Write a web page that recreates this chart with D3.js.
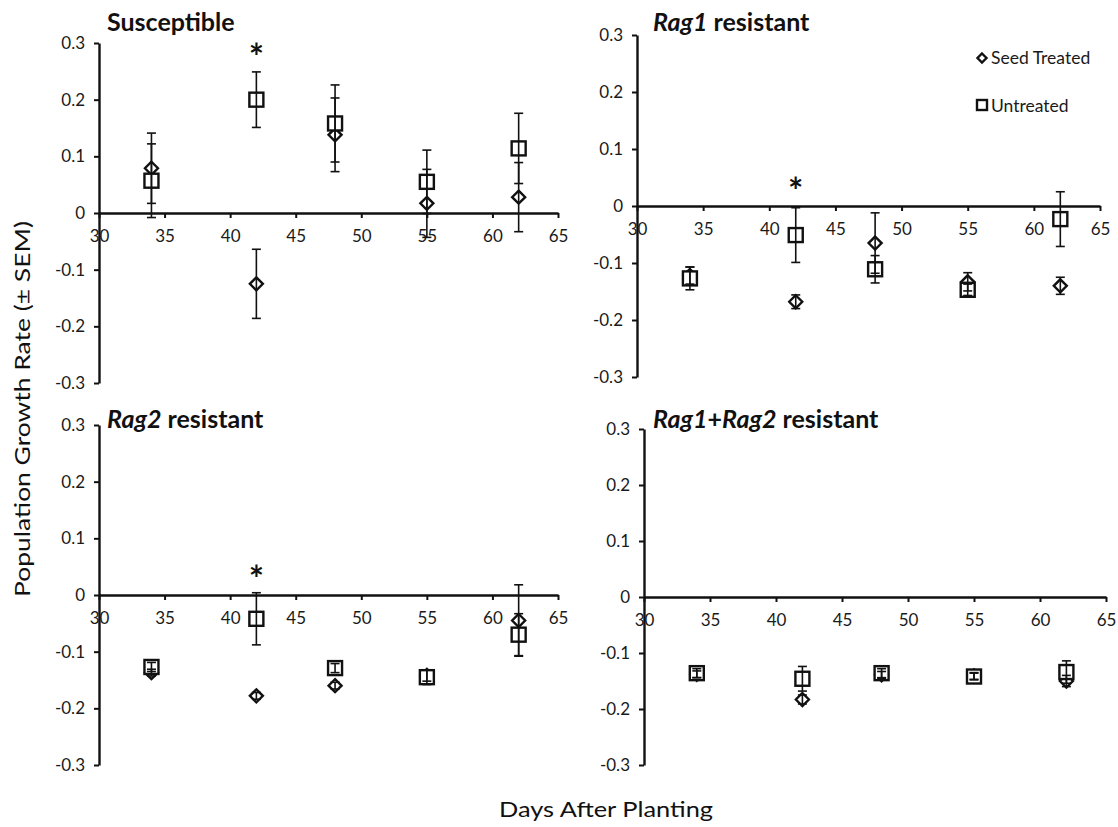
<!DOCTYPE html>
<html>
<head>
<meta charset="utf-8">
<script src="https://d3js.org/d3.v7.min.js"></script>
<style>
body{margin:0;background:#fff;}
svg{display:block;font-family:Lato,"Open Sans",sans-serif;}
</style>
</head>
<body>
<div id="chart"></div>
<script>
// days after planting
const days = [34, 42, 48, 55, 62];
const xTicks = [30, 35, 40, 45, 50, 55, 60, 65];
const yTicks = [0.3, 0.2, 0.1, 0, -0.1, -0.2, -0.3];
const yTickLabels = ['0.3', '0.2', '0.1', '0', '-0.1', '-0.2', '-0.3'];

// susceptible
const susSeed = [0.079, -0.125, 0.138, 0.017, 0.028];
const susSeedErr = [0.062, 0.061, 0.065, 0.060, 0.061];
const susUnt = [0.057, 0.200, 0.158, 0.055, 0.114];
const susUntErr = [0.065, 0.049, 0.068, 0.056, 0.062];

// Rag1 resistant
const rag1Seed = [-0.122, -0.168, -0.065, -0.133, -0.140];
const rag1SeedErr = [0.015, 0.012, 0.053, 0.016, 0.015];
const rag1Unt = [-0.127, -0.051, -0.111, -0.147, -0.023];
const rag1UntErr = [0.020, 0.048, 0.024, 0.010, 0.048];

// Rag2 resistant
const rag2Seed = [-0.137, -0.178, -0.160, -0.142, -0.045];
const rag2SeedErr = [0.006, 0.006, 0.006, 0.010, 0.063];
const rag2Unt = [-0.127, -0.042, -0.129, -0.145, -0.070];
const rag2UntErr = [0.008, 0.046, 0.008, 0.013, 0.037];

// Rag1+Rag2 resistant
const rag12Seed = [-0.138, -0.183, -0.139, -0.141, -0.150];
const rag12SeedErr = [0.006, 0.008, 0.006, 0.006, 0.010];
const rag12Unt = [-0.136, -0.146, -0.136, -0.142, -0.134];
const rag12UntErr = [0.008, 0.022, 0.008, 0.006, 0.020];

// significance stars (day, height)
const stars = [[42, 0.283], [42, 0.033], [42, 0.035], null];

const panels = [
  {title: [['Susceptible', 'normal']], seed: susSeed, seedErr: susSeedErr, unt: susUnt, untErr: susUntErr,
   box: {x0: 99, x1: 558, top: 43, bottom: 383, tx: 107, ty: 31}},
  {title: [['Rag1', 'italic'], [' resistant', 'normal']], seed: rag1Seed, seedErr: rag1SeedErr, unt: rag1Unt, untErr: rag1UntErr,
   box: {x0: 637, x1: 1100, top: 35, bottom: 377, tx: 653, ty: 31}},
  {title: [['Rag2', 'italic'], [' resistant', 'normal']], seed: rag2Seed, seedErr: rag2SeedErr, unt: rag2Unt, untErr: rag2UntErr,
   box: {x0: 99, x1: 558, top: 425, bottom: 765, tx: 107, ty: 428}},
  {title: [['Rag1', 'italic'], ['+', 'normal'], ['Rag2', 'italic'], [' resistant', 'normal']], seed: rag12Seed, seedErr: rag12SeedErr, unt: rag12Unt, untErr: rag12UntErr,
   box: {x0: 644, x1: 1106, top: 429, bottom: 765, tx: 653, ty: 428}}
];

const svg = d3.select('#chart').append('svg')
  .attr('width', 1118)
  .attr('height', 827);

const diamond = s => `M0,${-s}L${s},0L0,${s}L${-s},0Z`;

function styleAxis(ax) {
  ax.attr('font-family', 'Lato, "Open Sans", sans-serif').attr('font-size', 17);
  ax.select('.domain').attr('stroke', '#111').attr('stroke-width', 2.4);
  ax.selectAll('.tick line').attr('stroke', '#111').attr('stroke-width', 2);
  ax.selectAll('.tick text').attr('fill', '#1a1a1a');
}

panels.forEach((p, i) => {
  const b = p.box;
  const x = d3.scaleLinear().domain([30, 65]).range([b.x0, b.x1]);
  const y = d3.scaleLinear().domain([-0.3, 0.3]).range([b.bottom, b.top]);
  const g = svg.append('g').attr('class', 'panel');

  const yAxis = g.append('g')
    .attr('transform', `translate(${b.x0},0)`)
    .call(d3.axisLeft(y).tickValues(yTicks).tickSize(5).tickSizeOuter(0)
      .tickFormat((d, j) => yTickLabels[j]));
  styleAxis(yAxis);
  yAxis.selectAll('.tick text').attr('x', -14);

  const xAxis = g.append('g')
    .attr('transform', `translate(0,${y(0)})`)
    .call(d3.axisBottom(x).tickValues(xTicks).tickSize(5).tickSizeOuter(0).tickFormat(d3.format('d')));
  styleAxis(xAxis);
  xAxis.selectAll('.tick text').attr('y', 17);

  // title
  const t = g.append('text')
    .attr('x', b.tx)
    .attr('y', b.ty)
    .attr('font-size', 25)
    .attr('font-weight', 'bold')
    .attr('fill', '#111');
  p.title.forEach(([s, st]) => t.append('tspan').attr('font-style', st).text(s));

  const seedPts = days.map((d, j) => ({d, v: p.seed[j], e: p.seedErr[j]}));
  const untPts = days.map((d, j) => ({d, v: p.unt[j], e: p.untErr[j]}));

  g.selectAll('path.seed').data(seedPts).enter().append('path')
    .attr('class', 'seed')
    .attr('d', diamond(6.5))
    .attr('transform', d => `translate(${x(d.d)},${y(d.v)})`)
    .attr('fill', '#fff').attr('stroke', '#111').attr('stroke-width', 2.4);

  g.selectAll('rect.unt').data(untPts).enter().append('rect')
    .attr('class', 'unt')
    .attr('x', d => x(d.d) - 7).attr('y', d => y(d.v) - 7)
    .attr('width', 14).attr('height', 14)
    .attr('fill', '#fff').attr('stroke', '#111').attr('stroke-width', 2.4);

  const errs = seedPts.concat(untPts);
  const eg = g.selectAll('g.err').data(errs).enter().append('g').attr('class', 'err')
    .attr('stroke', '#111').attr('stroke-width', 1.6);
  eg.append('line')
    .attr('x1', d => x(d.d)).attr('x2', d => x(d.d))
    .attr('y1', d => y(d.v + d.e)).attr('y2', d => y(d.v - d.e));
  eg.append('line')
    .attr('x1', d => x(d.d) - 4.5).attr('x2', d => x(d.d) + 4.5)
    .attr('y1', d => y(d.v + d.e)).attr('y2', d => y(d.v + d.e));
  eg.append('line')
    .attr('x1', d => x(d.d) - 4.5).attr('x2', d => x(d.d) + 4.5)
    .attr('y1', d => y(d.v - d.e)).attr('y2', d => y(d.v - d.e));

  if (stars[i]) {
    g.append('text')
      .attr('x', x(stars[i][0])).attr('y', y(stars[i][1]) + 17)
      .attr('text-anchor', 'middle')
      .attr('font-size', 36).attr('font-weight', 'bold').attr('fill', '#111')
      .text('*');
  }
});

// legend
const legend = svg.append('g').attr('font-size', 17.5).attr('fill', '#1a1a1a');
legend.append('path').attr('d', diamond(4.5)).attr('transform', 'translate(982,58)')
  .attr('fill', '#fff').attr('stroke', '#111').attr('stroke-width', 2.4);
legend.append('text').attr('x', 991).attr('y', 64).text('Seed Treated');
legend.append('rect').attr('x', 977).attr('y', 100).attr('width', 10).attr('height', 10)
  .attr('fill', '#fff').attr('stroke', '#111').attr('stroke-width', 2.4);
legend.append('text').attr('x', 991).attr('y', 112).text('Untreated');

// axis titles
svg.append('text')
  .attr('transform', 'translate(30,409) rotate(-90)')
  .attr('text-anchor', 'middle')
  .attr('font-size', 22).attr('fill', '#111')
  .attr('textLength', 376).attr('lengthAdjust', 'spacingAndGlyphs')
  .text('Population Growth Rate (± SEM)');

svg.append('text')
  .attr('x', 606).attr('y', 817)
  .attr('text-anchor', 'middle')
  .attr('font-size', 22).attr('fill', '#111')
  .attr('textLength', 214).attr('lengthAdjust', 'spacingAndGlyphs')
  .text('Days After Planting');
</script>
</body>
</html>
